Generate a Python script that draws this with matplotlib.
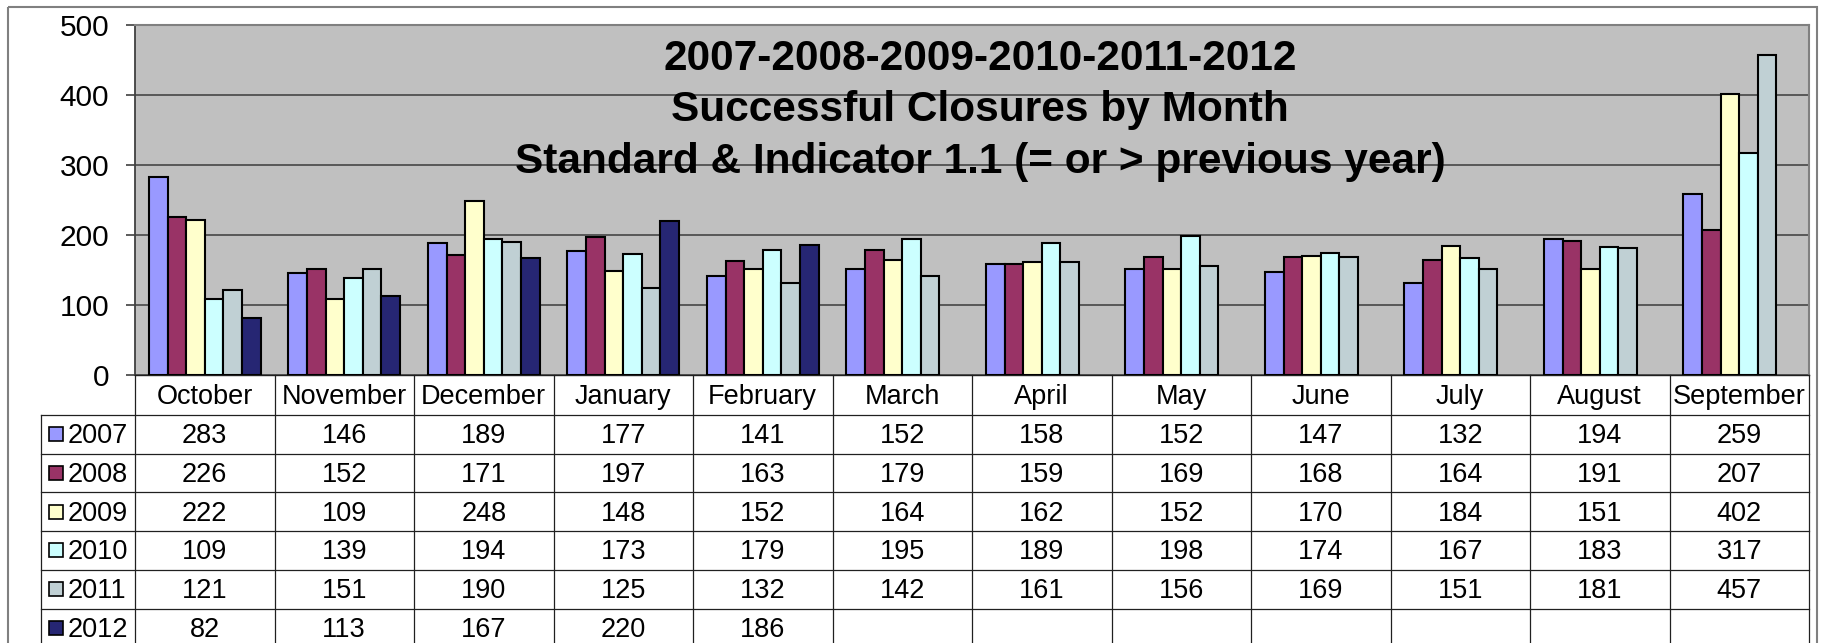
import numpy as np
import matplotlib
matplotlib.use("Agg")
import matplotlib.pyplot as plt
from matplotlib.lines import Line2D
from matplotlib.patches import Rectangle

months = ["October", "November", "December", "January", "February", "March",
          "April", "May", "June", "July", "August", "September"]
series_names = ["2007", "2008", "2009", "2010", "2011", "2012"]
v2007 = [283, 146, 189, 177, 141, 152, 158, 152, 147, 132, 194, 259]
v2008 = [226, 152, 171, 197, 163, 179, 159, 169, 168, 164, 191, 207]
v2009 = [222, 109, 248, 148, 152, 164, 162, 152, 170, 184, 151, 402]
v2010 = [109, 139, 194, 173, 179, 195, 189, 198, 174, 167, 183, 317]
v2011 = [121, 151, 190, 125, 132, 142, 161, 156, 169, 151, 181, 457]
v2012 = [82, 113, 167, 220, 186]
series_values = [v2007, v2008, v2009, v2010, v2011, v2012]
colors = ["#9999FF", "#993366", "#FFFFCC", "#CCFFFF", "#C0D0D4", "#262673"]
title_lines = ["2007-2008-2009-2010-2011-2012",
               "Successful Closures by Month",
               "Standard & Indicator 1.1 (= or > previous year)"]
yticks = [0, 100, 200, 300, 400, 500]

plt.rcParams['font.family'] = ['Liberation Sans', 'DejaVu Sans']

W, H = 1821, 643
fig = plt.figure(figsize=(W / 100, H / 100), dpi=100)
fig.patch.set_facecolor("white")

L, T, R, B = 135, 25, 1809, 375
ax = fig.add_axes([L / W, 1 - B / H, (R - L) / W, (B - T) / H])
ax.set_facecolor("#C0C0C0")
n = len(series_values)
bw = 1 / (n + 1.5)
for i, (vals, c) in enumerate(zip(series_values, colors)):
    xs = [j + (i - (n - 1) / 2) * bw for j in range(len(vals))]
    ax.bar(xs, vals, width=bw, color=c, edgecolor="black", linewidth=1.5, zorder=3)
ax.set_xlim(-0.5, len(months) - 0.5)
ax.set_ylim(0, 500)
ax.set_yticks(yticks)
ax.set_xticks([])
ax.yaxis.grid(True, color="#505050", lw=1.3)
ax.set_axisbelow(True)
ax.tick_params(axis="y", length=6.5, width=1.2, pad=12, labelsize=21.5, color="#404040")
for s in ["top", "right"]:
    ax.spines[s].set_color("#808080")
    ax.spines[s].set_linewidth(1.5)
ax.spines["left"].set_color("#404040")
ax.spines["left"].set_linewidth(1.3)
ax.spines["bottom"].set_color("#202020")
ax.spines["bottom"].set_linewidth(1.0)

# overlay in pixel coordinates for table, title and frame
ov = fig.add_axes([0, 0, 1, 1], zorder=2)
ov.set_xlim(0, W)
ov.set_ylim(H, 0)
ov.axis("off")
ov.patch.set_visible(False)

ov.add_patch(Rectangle((8, 7), 1809, 700, fill=False, edgecolor="#808080", lw=1.5))

# title
tx = 980
for line, yb in zip(title_lines, [70, 121, 173]):
    ov.text(tx, yb, line, ha="center", va="baseline", fontsize=30.5, fontweight="bold")

# table
cw = (R - L) / len(months)
row_top = 415
rh = 38.7
leg_left = 41
lc = "#202020"
for k in range(len(months) + 1):
    x = L + k * cw
    ov.add_line(Line2D([x, x], [B, H + 5], color=lc, lw=0.9))
ov.add_line(Line2D([leg_left, leg_left], [row_top, H + 5], color=lc, lw=0.9))
for r in range(len(series_values) + 1):
    y = row_top + r * rh
    ov.add_line(Line2D([leg_left, R], [y, y], color=lc, lw=0.9))

for k, m in enumerate(months):
    ov.text(L + (k + 0.5) * cw, (B + row_top) / 2 + 9.5, m, ha="center",
            va="baseline", fontsize=19.5)

for r, (name, vals, c) in enumerate(zip(series_names, series_values, colors)):
    yc = row_top + (r + 0.5) * rh
    ov.add_patch(Rectangle((49, yc - 7), 14, 14, facecolor=c, edgecolor="black", lw=1.2))
    ov.text(68, yc + 9, name, ha="left", va="baseline", fontsize=19.5)
    for k, v in enumerate(vals):
        ov.text(L + (k + 0.5) * cw, yc + 9, str(v), ha="center", va="baseline",
                fontsize=19.5)

fig.savefig("out.png", dpi=100)
